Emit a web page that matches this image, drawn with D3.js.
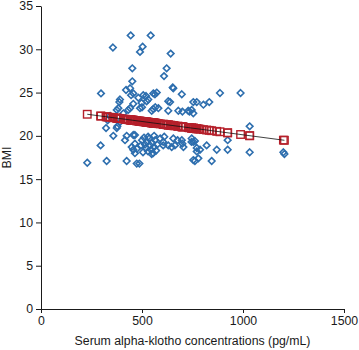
<!DOCTYPE html>
<html><head><meta charset="utf-8">
<script src="https://cdn.jsdelivr.net/npm/d3@7"></script>
<style>
body{margin:0;background:#fff}
text{font-family:"Liberation Sans",Arial,sans-serif}
</style>
</head><body>
<svg id="chart" width="359" height="350"></svg>
<script>
// Observed points: serum alpha-klotho (pg/mL) and BMI
const klotho = [
  356,444,543,503,490,642,452,622,609,452,
  297,421,441,457,446,506,482,520,556,573,564,655,652,697,886,988,391,388,531,523,498,457,
  630,639,754,771,804,833,
  383,441,490,500,548,566,556,581,630,680,729,746,754,700,735,408,375,432,342,330,
  391,378,375,322,1033,358,424,416,465,457,
  295,229,325,424,474,487,
  449,457,465,465,475,
  500,510,515,520,525,530,535,540,545,550,555,560,565,570,548,505,530,575,560,590,495,610,
  605,605,630,647,655,663,676,697,705,700,746,754,745,762,771,787,771,779,762,754,820,870,845,924,924,1033,1200,1205
];
const bmi = [
  30.2,31.6,31.6,30.3,29.7,29.5,27.8,27.8,26.9,26.3,
  24.9,25.3,25.5,24.9,24.7,24.7,24.4,24.6,24.9,25.0,24.8,25.5,25.6,24.8,24.95,24.95,24.2,23.9,24.2,24.0,23.8,23.7,
  24.0,23.9,23.9,23.9,23.6,23.9,
  23.2,23.2,23.2,23.3,22.9,23.3,23.1,23.2,22.9,22.9,22.9,23.0,22.6,22.8,22.8,22.6,23.0,23.0,22.3,21.8,
  21.6,21.1,20.9,20.9,21.1,20.0,20.0,19.5,20.1,20.1,
  18.9,16.9,17.1,17.1,16.8,16.8,
  18.7,18.4,18.0,19.1,18.5,
  19.5,19.8,19.0,18.6,19.3,18.2,19.7,18.9,18.4,19.2,18.0,18.7,19.5,18.3,17.9,18.1,19.9,19.0,20.0,19.7,18.9,19.9,
  18.9,19.3,18.9,18.7,19.7,18.9,19.5,19.5,18.7,19.1,19.7,19.3,19.3,19.4,18.6,18.4,18.2,17.4,17.1,17.2,18.9,18.4,17.1,19.5,18.4,18.1,18.1,17.9
];
// Fitted regression line
const fitIntercept = 23.2;
const fitSlope = -0.00308;

const xTicks = [0, 500, 1000, 1500];
const yTicks = [0, 5, 10, 15, 20, 25, 30, 35];
const xLabel = "Serum alpha-klotho concentrations (pg/mL)";
const yLabel = "BMI";

const margin = {left: 41, top: 6, right: 15, bottom: 41};
const W = 359, H = 350;
const svg = d3.select("#chart");
const x = d3.scaleLinear().domain([0, 1500]).range([margin.left, W - margin.right]);
const y = d3.scaleLinear().domain([0, 35]).range([H - margin.bottom, margin.top]);

const blue = "#2d6eae", red = "#b5202b", ink = "#1a1a1a";
const fs = "12.3px";

// axes
const gx = svg.append("g").attr("transform", `translate(0,${y(0)})`)
  .call(d3.axisBottom(x).tickValues(xTicks).tickFormat(d3.format("d")).tickSize(4).tickPadding(3).tickSizeOuter(0));
const gy = svg.append("g").attr("transform", `translate(${x(0)},0)`)
  .call(d3.axisLeft(y).tickValues(yTicks).tickFormat(d3.format("d")).tickSize(5).tickPadding(3).tickSizeOuter(0));
[gx, gy].forEach(g => {
  g.select(".domain").attr("stroke", ink).attr("stroke-width", 1);
  g.selectAll(".tick line").attr("stroke", ink);
  g.selectAll(".tick text").attr("fill", ink).style("font-size", fs)
    .style("font-family", "'Liberation Sans', Arial, sans-serif");
});

// labels
svg.append("text").attr("x", (x(0) + x(1500)) / 2).attr("y", 345)
  .attr("text-anchor", "middle").attr("fill", ink).style("font-size", fs).text(xLabel);
svg.append("text").attr("transform", `translate(10.5,${(y(0) + y(35)) / 2}) rotate(-90)`)
  .attr("text-anchor", "middle").attr("fill", ink).style("font-size", fs).text(yLabel);

const pts = klotho.map((k, i) => ({k, b: bmi[i]}));

// diamonds
const r = 3.3;
svg.append("g").selectAll("path").data(pts).join("path")
  .attr("d", d => `M${x(d.k)},${y(d.b) - r}L${x(d.k) + r},${y(d.b)}L${x(d.k)},${y(d.b) + r}L${x(d.k) - r},${y(d.b)}Z`)
  .attr("fill", "none").attr("stroke", blue).attr("stroke-width", 1.6);

// fitted values (squares)
const fit = k => fitIntercept + fitSlope * k;
const s = 7.5;
svg.append("g").selectAll("rect").data(pts).join("rect")
  .attr("x", d => x(d.k) - s / 2).attr("y", d => y(fit(d.k)) - s / 2)
  .attr("width", s).attr("height", s)
  .attr("fill", "none").attr("stroke", red).attr("stroke-width", 1.4);

// regression line
const kExt = d3.extent(klotho);
svg.append("line")
  .attr("x1", x(kExt[0])).attr("y1", y(fit(kExt[0])))
  .attr("x2", x(kExt[1])).attr("y2", y(fit(kExt[1])))
  .attr("stroke", "#111").attr("stroke-width", 0.8);
</script>
</body></html>
